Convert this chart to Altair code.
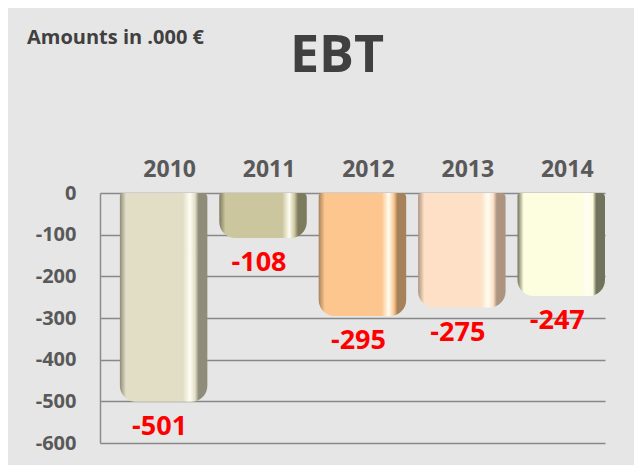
import altair as alt
import pandas as pd

years = ["2010", "2011", "2012", "2013", "2014"]
ebt = [-501, -108, -295, -275, -247]
bar_colors = ["#e2dec6", "#ccc69f", "#fcc68e", "#fde0c6", "#fdfddf"]
side_colors = ["#8f8c7a", "#7d7a5e", "#a7815a", "#ad9480", "#72735c"]
y_ticks = [0, -100, -200, -300, -400, -500, -600]

df = pd.DataFrame({"year": years, "ebt": ebt})
df["zero"] = 0
df["label"] = [str(v) for v in ebt]

FONT = "Open Sans"
GREY = "#595959"

xscale = alt.Scale(domain=years, paddingInner=0.12, paddingOuter=0.1, align=1)
yscale = alt.Scale(domain=[-600, 0], nice=False)
x = alt.X("year:N", sort=years, title=None, scale=xscale,
          axis=alt.Axis(orient="top", labelAngle=0, labelFont=FONT, labelFontSize=23,
                        labelFontWeight="bold", labelColor=GREY, ticks=False,
                        domain=False, labelPadding=12, labelOffset=6))
y = alt.Y("zero:Q", title=None, scale=yscale,
          axis=alt.Axis(values=y_ticks, labelFont=FONT, labelFontSize=20,
                        labelFontWeight="bold", labelColor=GREY, ticks=False,
                        labelExpr="replace(datum.label, '\u2212', '-')",
                        domainColor="#8c8c8c", domainWidth=1.5, labelPadding=24,
                        grid=True, gridColor="#888888", gridWidth=1.5))

layers = []
for i, yr in enumerate(years):
    base, side = bar_colors[i], side_colors[i]
    grad = alt.LinearGradient(
        gradient="linear", x1=0, x2=1, y1=0, y2=0,
        stops=[alt.GradientStop(color=side, offset=0.0),
               alt.GradientStop(color=base, offset=0.07),
               alt.GradientStop(color=base, offset=0.72),
               alt.GradientStop(color="#fffdf2", offset=0.8),
               alt.GradientStop(color=base, offset=0.86),
               alt.GradientStop(color=side, offset=0.9),
               alt.GradientStop(color=side, offset=1.0)])
    layers.append(
        alt.Chart(df).transform_filter(alt.datum.year == yr).mark_bar(
            fill=grad, cornerRadiusBottomLeft=16, cornerRadiusBottomRight=16,
            cornerRadiusTopRight=4, cornerRadiusTopLeft=3
        ).encode(x=x, y=y, y2="ebt:Q")
    )

labels = alt.Chart(df).mark_text(
    font=FONT, fontSize=27, fontWeight="bold", color="#ff0000",
    baseline="top", dy=12, dx=-4
).encode(x=alt.X("year:N", sort=years, scale=xscale),
         y=alt.Y("ebt:Q", scale=yscale), text="label:N")

title = alt.Chart(pd.DataFrame({"t": ["EBT"]})).mark_text(
    font=FONT, fontSize=52, fontWeight="bold", color="#404040", baseline="middle"
).encode(x=alt.value(237), y=alt.value(-137), text="t:N")

subtitle = alt.Chart(pd.DataFrame({"t": ["Amounts in .000 €"]})).mark_text(
    font=FONT, fontSize=20, fontWeight="bold", color="#404040", align="left",
    baseline="middle"
).encode(x=alt.value(-73), y=alt.value(-155), text="t:N")

chart = alt.layer(*layers, labels, title, subtitle).properties(
    width=505, height=250,
    autosize=alt.AutoSizeParams(type="none"),
    padding={"left": 92, "top": 185, "right": 29, "bottom": 22},
    background="#e6e6e6",
).configure_view(stroke=None)

chart.save("out.html", embed_options={"renderer": "svg", "actions": False})
